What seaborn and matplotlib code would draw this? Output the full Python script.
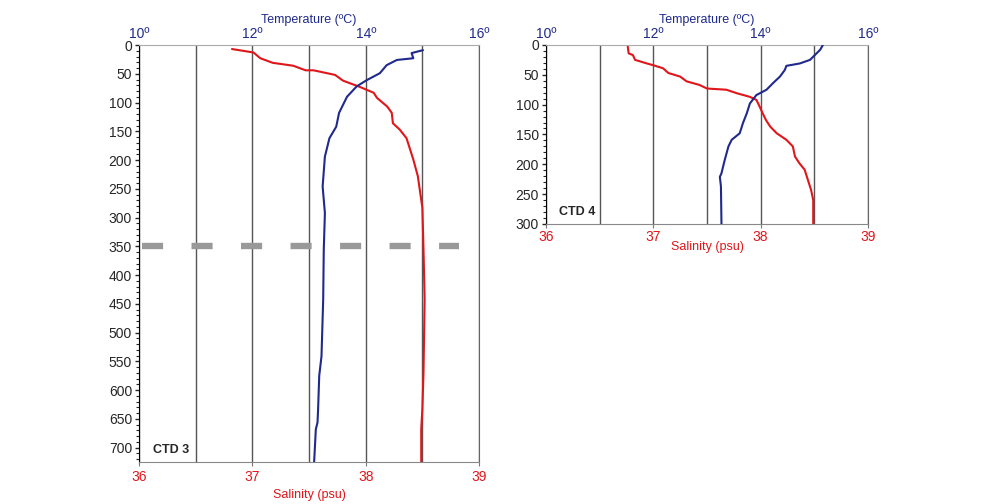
import numpy as np
import pandas as pd
import seaborn as sns
import matplotlib.pyplot as plt
from matplotlib.ticker import MultipleLocator

sns.set_style("white")
plt.rcParams['font.family'] = ['Liberation Sans', 'DejaVu Sans']

BLUE = '#1f2a8c'
RED = '#e0161b'

# CTD 3 - salinity profile (depth m, psu)
ctd3_sal_depth = [7, 13, 23, 31, 36, 44, 44, 52, 62, 73, 83, 92, 107, 118, 136, 147,
                  162, 199, 228, 283, 356, 442, 569, 633, 668, 725]
ctd3_sal = [36.82, 37.01, 37.07, 37.18, 37.36, 37.47, 37.54, 37.73, 37.80, 37.95, 38.07,
            38.10, 38.19, 38.23, 38.24, 38.30, 38.36, 38.42, 38.46, 38.50, 38.51, 38.52,
            38.51, 38.50, 38.49, 38.49]

# CTD 3 - temperature profile (depth m, ºC)
ctd3_tmp_depth = [9, 14, 23, 26, 35, 49, 61, 72, 90, 104, 118, 142, 162, 194, 246,
                  292, 356, 442, 541, 575, 633, 656, 668, 725]
ctd3_tmp = [15.01, 14.81, 14.84, 14.55, 14.37, 14.25, 14.02, 13.84, 13.67, 13.60, 13.53,
            13.48, 13.36, 13.28, 13.24, 13.28, 13.26, 13.25, 13.22, 13.18, 13.16,
            13.15, 13.12, 13.09]

# CTD 4 - salinity profile
ctd4_sal_depth = [0, 14, 17, 25, 31, 34, 39, 47, 53, 61, 67, 73, 75, 81, 87, 92, 103,
                  115, 126, 137, 148, 159, 170, 187, 198, 209, 226, 243, 260, 300]
ctd4_sal = [36.76, 36.77, 36.81, 36.83, 36.94, 37.00, 37.09, 37.14, 37.25, 37.31, 37.43,
            37.50, 37.68, 37.78, 37.90, 37.96, 37.99, 38.02, 38.05, 38.09, 38.15, 38.24,
            38.30, 38.32, 38.36, 38.41, 38.44, 38.47, 38.49, 38.49]

# CTD 4 - temperature profile
ctd4_tmp_depth = [0, 8, 17, 25, 31, 35, 42, 53, 64, 75, 84, 98, 115, 131, 148, 159, 170,
                  193, 215, 221, 237, 300]
ctd4_tmp = [15.16, 15.11, 15.01, 14.92, 14.73, 14.48, 14.45, 14.36, 14.23, 14.11, 13.92,
            13.80, 13.74, 13.67, 13.61, 13.46, 13.40, 13.33, 13.27, 13.24, 13.26, 13.27]

sal_ticks = [36, 37, 38, 39]
tmp_ticks = [10, 12, 14, 16]
tmp_labels = ['10º', '12º', '14º', '16º']


def profile_panel(fig, rect, sal_d, sal, tmp_d, tmp, ymax, name, tick_pad, sal_pad):
    ax = fig.add_axes(rect)
    sns.lineplot(x=sal, y=sal_d, sort=False, estimator=None, orient='y',
                 color=RED, lw=1.5, ax=ax)
    ax.set_xlim(36, 39)
    ax.set_ylim(ymax, 0)
    ax.set_xticks(sal_ticks)
    ax.set_xticks([36.5, 37.5, 38.5], minor=True)
    ax.set_xticklabels([str(s) for s in sal_ticks], color=RED, fontsize=10)
    ax.tick_params(axis='x', which='major', length=3, color='#777777', pad=tick_pad)
    ax.tick_params(axis='x', which='minor', length=0)
    ax.grid(True, axis='x', which='both', color='#555555', lw=1)
    ax.yaxis.set_major_locator(MultipleLocator(50))
    ax.yaxis.set_minor_locator(MultipleLocator(10))
    ax.tick_params(axis='y', which='major', length=3, width=1, labelsize=10, pad=2, left=True)
    ax.tick_params(axis='y', which='minor', length=2, width=0.8, left=True)
    ax.set_xlabel('Salinity (psu)', color=RED, fontsize=9, labelpad=sal_pad)
    ax.set_ylabel('')
    ax.spines['left'].set_color('black')
    ax.spines['bottom'].set_color('#888888')
    ax.spines['right'].set_color('#666666')
    ax.spines['top'].set_color('#aaaaaa')

    ax2 = ax.twiny()
    sns.lineplot(x=tmp, y=tmp_d, sort=False, estimator=None, orient='y',
                 color=BLUE, lw=1.5, ax=ax2)
    ax2.set_xlim(10, 16)
    ax2.set_xticks(tmp_ticks)
    ax2.set_xticklabels(tmp_labels, color=BLUE, fontsize=10)
    ax2.tick_params(axis='x', length=0, pad=3)
    ax2.set_xlabel('Temperature (ºC)', color=BLUE, fontsize=9, labelpad=3)
    for s in ax2.spines.values():
        s.set_visible(False)
    ax2.set_ylim(ymax, 0)

    ax.text(0.04, 0.03 if ymax > 500 else 0.067, name, transform=ax.transAxes,
            fontsize=9, fontweight='bold', va='center', ha='left')
    return ax


fig = plt.figure(figsize=(9.98, 5.04), dpi=100)

ax3 = profile_panel(fig, [0.1393, 0.0833, 0.3407, 0.8274],
                    ctd3_sal_depth, ctd3_sal, ctd3_tmp_depth, ctd3_tmp, 725, 'CTD 3', 3, 3)
ax3.axhline(350, xmin=0.008, xmax=0.941, color='#999999', lw=4.6,
            dashes=(3.3, 4.45), zorder=5)

profile_panel(fig, [0.5471, 0.5556, 0.3226, 0.3552],
              ctd4_sal_depth, ctd4_sal, ctd4_tmp_depth, ctd4_tmp, 300, 'CTD 4', 1, -2)

fig.savefig('out.png', dpi=100)
